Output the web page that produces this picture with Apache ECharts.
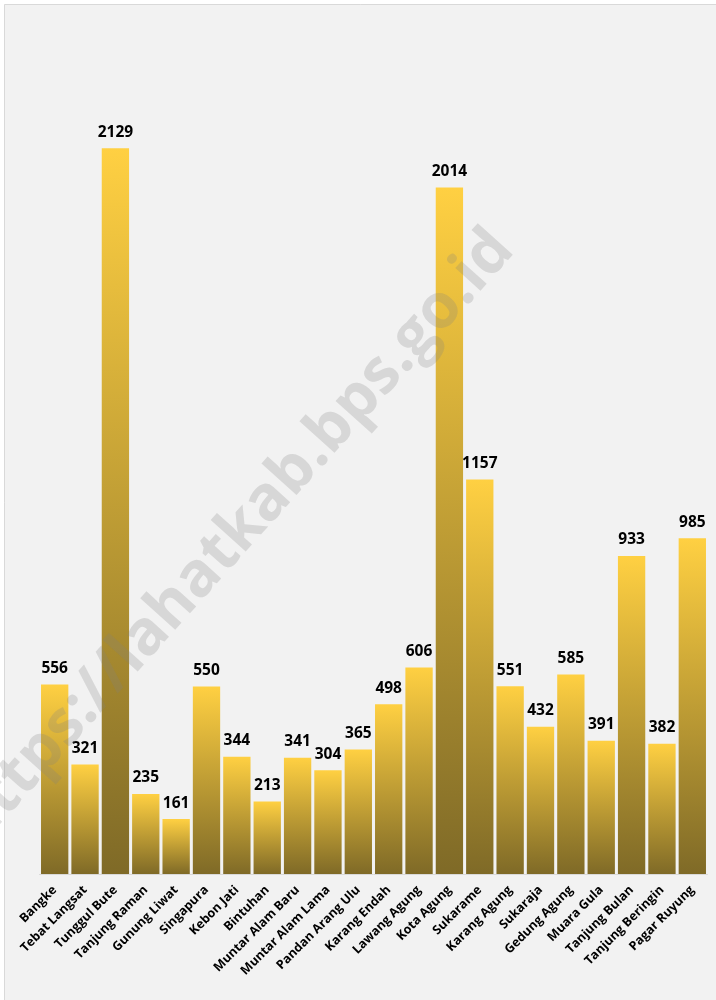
<!DOCTYPE html>
<html>
<head>
<meta charset="utf-8">
<script src="https://cdn.jsdelivr.net/npm/echarts@6/dist/echarts.min.js"></script>
<style>
	html, body { margin: 0; padding: 0; background: #ffffff; }
	#chart { width: 716px; height: 1000px; }
</style>
</head>
<body>
<div id="chart"></div>
<script>
// nama desa / kelurahan
var categories = ['Bangke', 'Tebat Langsat', 'Tunggul Bute', 'Tanjung Raman', 'Gunung Liwat',
	'Singapura', 'Kebon Jati', 'Bintuhan', 'Muntar Alam Baru', 'Muntar Alam Lama',
	'Pandan Arang Ulu', 'Karang Endah', 'Lawang Agung', 'Kota Agung', 'Sukarame',
	'Karang Agung', 'Sukaraja', 'Gedung Agung', 'Muara Gula', 'Tanjung Bulan',
	'Tanjung Beringin', 'Pagar Ruyung'];
// jumlah per desa
var values = [556, 321, 2129, 235, 161, 550, 344, 213, 341, 304, 365, 498, 606, 2014, 1157,
	551, 432, 585, 391, 933, 382, 985];

var myChart = echarts.init(document.getElementById('chart'));
// warna batang: kuning emas di atas, zaitun gelap di bawah
var barGradient = new echarts.graphic.LinearGradient(0, 0, 0, 1, [
	{ offset: 0, color: '#FFD042' },
	{ offset: 1, color: '#7F6A27' }
]);
var option = {
	backgroundColor: '#ffffff',
	animation: false,
	grid: { left: 39.5, right: 8.5, top: 124, bottom: 126 },
	xAxis: {
		type: 'category',
		data: categories,
		axisLine: { lineStyle: { color: '#d9d9d9', width: 1 } },
		axisTick: { show: false },
		axisLabel: {
			rotate: 45,
			interval: 0,
			margin: 14,
			fontFamily: 'Open Sans',
			fontWeight: 'bold',
			fontSize: 12.5,
			color: '#000000'
		}
	},
	yAxis: {
		type: 'value',
		min: 0,
		max: 2200,
		show: false,
		splitLine: { show: false }
	},
	graphic: [
		{
			type: 'rect', z: -10, silent: true,
			shape: { x: 4.5, y: 4.5, width: 720, height: 1000 },
			style: { fill: '#f2f2f2', stroke: '#d9d9d9', lineWidth: 1 }
		},
		{
			// watermark
			type: 'text', z: 100, silent: true,
			x: 234, y: 538, rotation: 48 * Math.PI / 180,
			style: {
				text: 'https://lahatkab.bps.go.id',
				fontFamily: 'Open Sans', fontWeight: 'bold', fontSize: 62,
				fill: 'rgba(128,128,128,0.24)',
				align: 'center', verticalAlign: 'middle'
			}
		}
	],
	series: [{
		type: 'bar',
		data: values,
		barCategoryGap: '10%',
		itemStyle: { color: barGradient },
		label: {
			show: true,
			position: 'top',
			distance: 8,
			fontFamily: 'Open Sans',
			fontWeight: 'bold',
			fontSize: 15.5,
			color: '#000000'
		}
	}]
};
myChart.setOption(option);
</script>
</body>
</html>
